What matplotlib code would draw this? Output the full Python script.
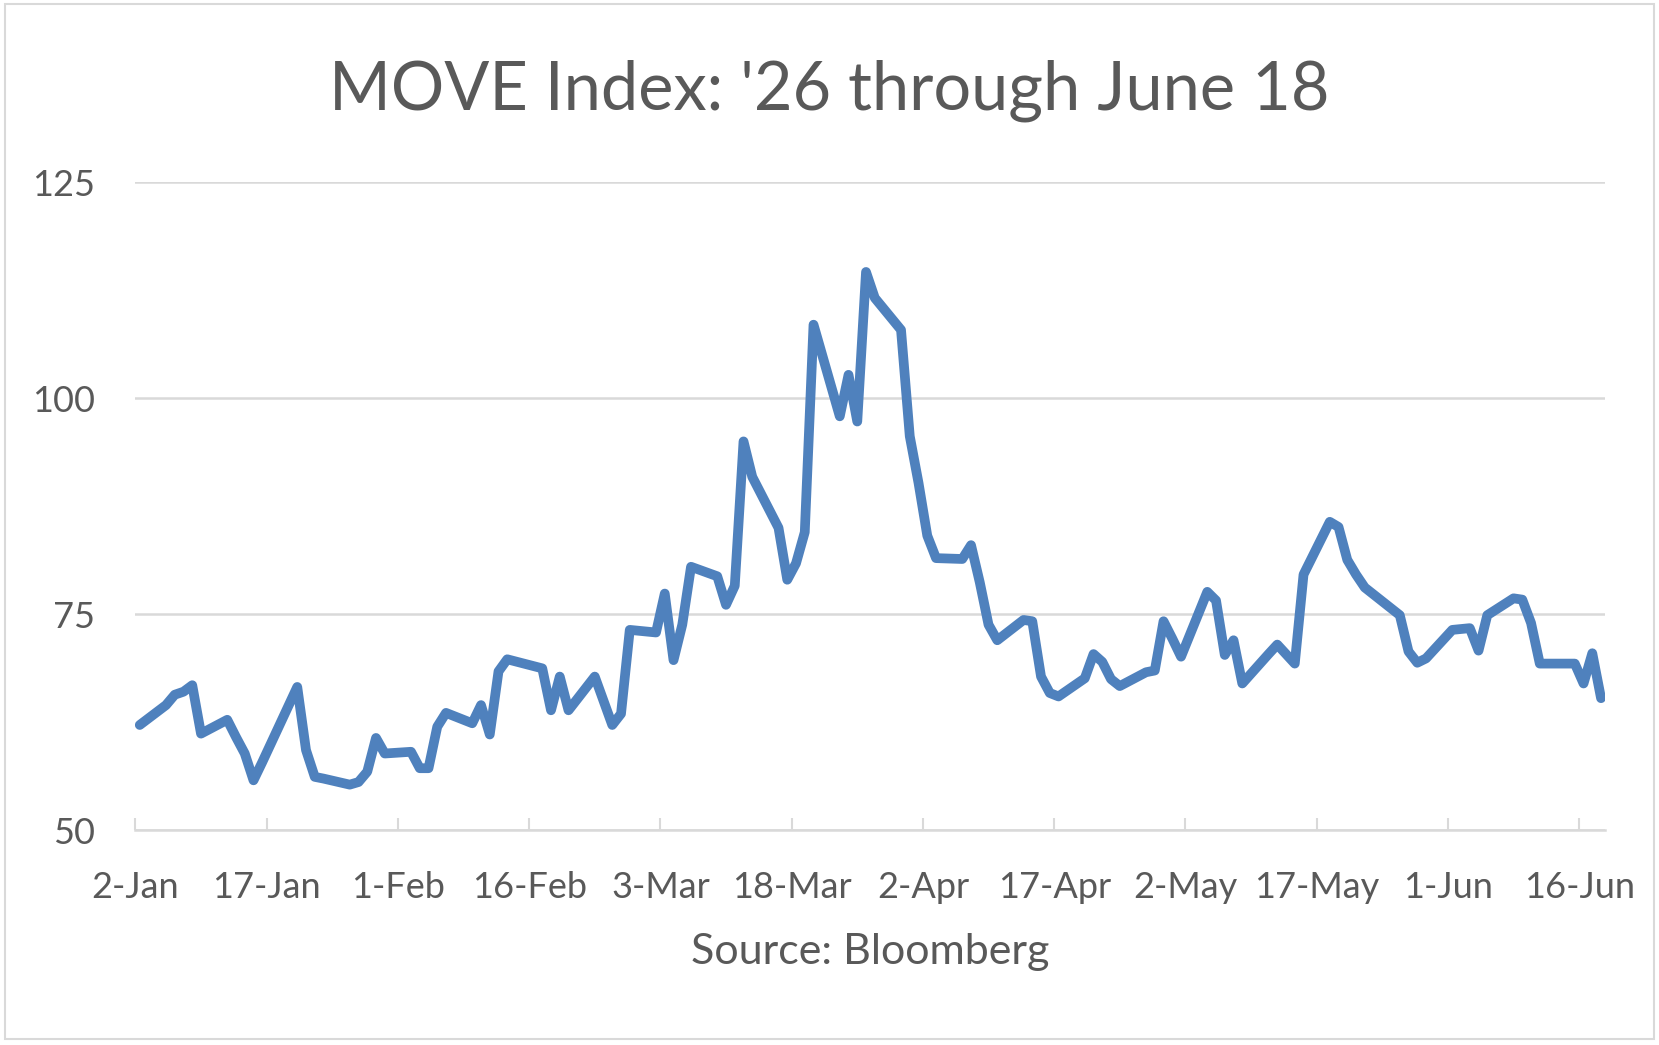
import matplotlib
matplotlib.use("Agg")
import matplotlib.pyplot as plt
import matplotlib.dates as mdates
from matplotlib.patches import Rectangle
import pandas as pd

plt.rcParams['font.family'] = ['Lato', 'DejaVu Sans']

title = "MOVE Index: '26 through June 18"
source = "Source: Bloomberg"

dates = ["01-02","01-05","01-06","01-07","01-08","01-09","01-12","01-13","01-14","01-15","01-16",
         "01-20","01-21","01-22","01-23","01-26","01-27","01-28","01-29","01-30",
         "02-02","02-03","02-04","02-05","02-06","02-09","02-10","02-11","02-12","02-13",
         "02-17","02-18","02-19","02-20","02-23","02-24","02-25","02-26","02-27",
         "03-02","03-03","03-04","03-05","03-06","03-09","03-10","03-11","03-12","03-13",
         "03-16","03-17","03-18","03-19","03-20","03-23","03-24","03-25","03-26","03-27",
         "03-30","03-31","04-01","04-02","04-03","04-06","04-07","04-08","04-09","04-10",
         "04-13","04-14","04-15","04-16","04-17","04-20","04-21","04-22","04-23","04-24",
         "04-27","04-28","04-29","04-30","05-01","05-04","05-05","05-06","05-07","05-08",
         "05-11","05-12","05-13","05-14","05-15","05-18","05-19","05-20","05-21","05-22",
         "05-26","05-27","05-28","05-29","06-01","06-02","06-03","06-04","06-05",
         "06-08","06-09","06-10","06-11","06-12","06-15","06-16","06-17","06-18"]

move = [62.2, 64.5, 65.7, 66.05, 66.8, 61.2, 62.8, 60.8, 58.9, 55.8, 57.9,
        66.6, 59.3, 56.2, 56.0, 55.3, 55.6, 56.8, 60.7, 58.9,
        59.1, 57.2, 57.2, 62.0, 63.6, 62.4, 64.5, 61.1, 68.4, 69.8,
        68.75, 63.9, 67.8, 63.9, 67.8, 65.0, 62.2, 63.5, 73.2,
        72.9, 77.4, 69.7, 73.8, 80.5, 79.4, 76.1, 78.3, 95.0, 90.9,
        85.0, 79.0, 80.9, 84.5, 108.5, 97.9, 102.7, 97.3, 114.6, 111.6,
        107.9, 95.6, 90.2, 84.1, 81.5, 81.4, 83.0, 78.7, 73.8, 72.0,
        74.35, 74.2, 67.8, 65.9, 65.5, 67.6, 70.4, 69.5, 67.5, 66.7,
        68.3, 68.5, 74.2, 72.2, 70.1, 77.6, 76.6, 70.3, 72.0, 67.0,
        70.4, 71.5, 70.4, 69.3, 79.6, 85.7, 85.1, 81.3, 79.6, 78.1,
        74.9, 70.7, 69.4, 69.9, 73.2, 73.3, 73.4, 70.8, 74.9,
        76.85, 76.7, 74.0, 69.3, 69.3, 69.3, 67.0, 70.5, 65.3]

tick_dates = ["01-02","01-17","02-01","02-16","03-03","03-18","04-02","04-17","05-02","05-17","06-01","06-16"]
tick_labels = ["2-Jan","17-Jan","1-Feb","16-Feb","3-Mar","18-Mar","2-Apr","17-Apr","2-May","17-May","1-Jun","16-Jun"]
y_ticks = [50, 75, 100, 125]

x = pd.to_datetime(["2026-" + d for d in dates]) + pd.Timedelta(hours=12)
xt = pd.to_datetime(["2026-" + d for d in tick_dates])

fig = plt.figure(figsize=(16.59, 10.45), dpi=100)
ax = fig.add_axes([0.0816, 0.2053, 0.9677 - 0.0816, 0.8258 - 0.2053])

grid_c = "#d9d9d9"
text_c = "#595959"

ax.plot(x, move, color="#4f81bd", lw=7.0, solid_joinstyle="round", solid_capstyle="round", zorder=3)

ax.set_xlim(pd.Timestamp("2026-01-02"), pd.Timestamp("2026-06-19"))
ax.set_ylim(50, 125)
ax.set_yticks(y_ticks)
ax.set_yticklabels([str(v) for v in y_ticks])
ax.set_xticks(xt)
ax.set_xticklabels(tick_labels)

ax.yaxis.grid(True, color=grid_c, lw=1.8, zorder=0)
ax.xaxis.grid(False)
for s in ["top", "right", "left"]:
    ax.spines[s].set_visible(False)
ax.spines["bottom"].set_color(grid_c)
ax.spines["bottom"].set_linewidth(1.8)
ax.spines["bottom"].set_zorder(1)

ax.tick_params(axis="y", length=0, pad=29, labelsize=26, labelcolor=text_c)
ax.tick_params(axis="x", direction="in", length=9, width=1.5, color=grid_c, pad=29,
               labelsize=26, labelcolor=text_c)

fig.text(0.5, 0.913, title, ha="center", va="center", fontsize=48, color=text_c)
fig.text((0.0816 + 0.9677) / 2, 0.089, source, ha="center", va="center", fontsize=31, color=text_c)

fig.patches.append(Rectangle((0.003, 0.006), 0.994, 0.99, transform=fig.transFigure,
                             fill=False, edgecolor=grid_c, lw=1.5))

fig.savefig("out.png", dpi=100, facecolor="white")
